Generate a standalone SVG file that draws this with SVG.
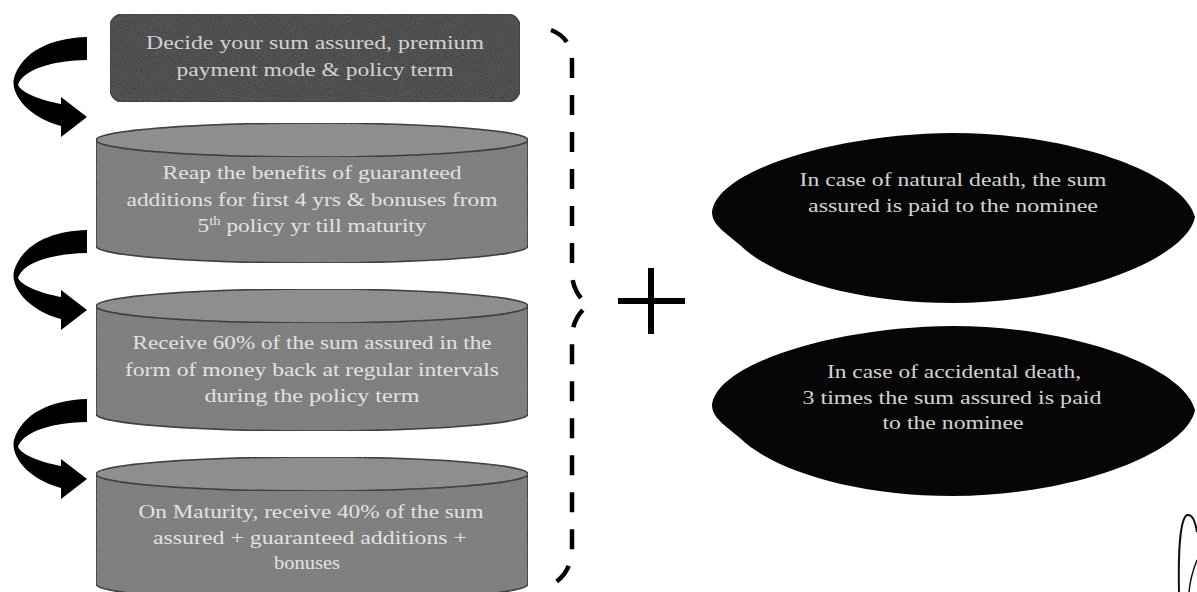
<svg xmlns="http://www.w3.org/2000/svg" width="1197" height="592" viewBox="0 0 1197 592">
<style>
  .t{font-family:"Liberation Serif","Times New Roman",serif;font-size:19px;text-anchor:middle;fill:#e2e2e2}
  .tb{fill:#d2d2d2}
  .te{font-family:"Liberation Serif","Times New Roman",serif;font-size:18.5px;text-anchor:middle;fill:#d4d4d4}
  .box{fill:#383838;stroke:#222;stroke-width:1.5}
  .body{fill:#787878;stroke:#1e1e1e;stroke-width:1.6}
  .lid{fill:#898989;stroke:#1e1e1e;stroke-width:1.6}
  .oval{fill:#060606}
  .arrow{fill:#000}
  .brace{fill:none;stroke:#000;stroke-width:4.5;stroke-dasharray:20 17;stroke-linecap:butt}
</style>
<defs>
  <filter id="grain" x="0" y="0" width="100%" height="100%">
    <feTurbulence type="fractalNoise" baseFrequency="0.85" numOctaves="2" seed="3" result="n"/>
    <feColorMatrix in="n" type="matrix" values="0 0 0 0 0.5  0 0 0 0 0.5  0 0 0 0 0.5  0 0 0 0.18 0" result="g"/>
    <feComposite in="g" in2="SourceGraphic" operator="in" result="gg"/>
    <feMerge><feMergeNode in="SourceGraphic"/><feMergeNode in="gg"/></feMerge>
  </filter>
  <path id="curl" d="M87,37 C50,38 22,52 14,78 C10,95 30,118 61,126 L61,137 L87,117 L61,97 L61,104 C40,100 22,93 18,85 C22,72 45,61 87,60 Z"/>
  <path id="lens" d="M712,212 C716,172 830,134 953,133 C1075,133 1185,175 1195,217 C1187,258 1080,302 953,303 C850,303 770,275 740,245 C725,232 712,225 712,212 Z"/>
</defs>

<g id="connectors">
  <use href="#curl" class="arrow"/>
  <use href="#curl" class="arrow" transform="translate(0,193)"/>
  <use href="#curl" class="arrow" transform="translate(0,362)"/>
</g>

<g id="step1">
  <rect class="box" x="110" y="14" width="410" height="88" rx="13" filter="url(#grain)"/>
  <text class="t tb" x="315" y="49" textLength="338" lengthAdjust="spacingAndGlyphs">Decide your sum assured, premium</text>
  <text class="t tb" x="315" y="76" textLength="277" lengthAdjust="spacingAndGlyphs">payment mode &amp; policy term</text>
</g>

<g id="step2">
  <path class="body" d="M96,140 L96,246 A216,17 0 0 0 528,246 L528,140 Z" filter="url(#grain)"/>
  <ellipse class="lid" cx="312" cy="140" rx="216" ry="17" filter="url(#grain)"/>
  <text class="t" x="312" y="179" textLength="299" lengthAdjust="spacingAndGlyphs">Reap the benefits of guaranteed</text>
  <text class="t" x="312" y="206" textLength="371" lengthAdjust="spacingAndGlyphs">additions for first 4 yrs &amp; bonuses from</text>
  <text class="t" x="312" y="232" textLength="229" lengthAdjust="spacingAndGlyphs">5<tspan font-size="12" dy="-7">th</tspan><tspan dy="7"> policy yr till maturity</tspan></text>
</g>

<g id="step3">
  <path class="body" d="M96,306 L96,414 A216,17 0 0 0 528,414 L528,306 Z" filter="url(#grain)"/>
  <ellipse class="lid" cx="312" cy="306" rx="216" ry="17" filter="url(#grain)"/>
  <text class="t" x="312" y="349" textLength="359" lengthAdjust="spacingAndGlyphs">Receive 60% of the sum assured in the</text>
  <text class="t" x="312" y="376" textLength="374" lengthAdjust="spacingAndGlyphs">form of money back at regular intervals</text>
  <text class="t" x="312" y="402" textLength="215" lengthAdjust="spacingAndGlyphs">during the policy term</text>
</g>

<g id="step4">
  <path class="body" d="M96,474 L96,584 A216,17 0 0 0 528,584 L528,474 Z" filter="url(#grain)"/>
  <ellipse class="lid" cx="312" cy="474" rx="216" ry="17" filter="url(#grain)"/>
  <text class="t" x="311" y="518" textLength="345" lengthAdjust="spacingAndGlyphs">On Maturity, receive 40% of the sum</text>
  <text class="t" x="310" y="544" textLength="314" lengthAdjust="spacingAndGlyphs">assured + guaranteed additions +</text>
  <text class="t" x="307" y="569" textLength="66" lengthAdjust="spacingAndGlyphs">bonuses</text>
</g>

<g id="brace">
  <path class="brace" d="M551,30 Q572,38 572,62 L572,272 Q572,292 588,305 Q572,318 572,338 L572,548 Q572,570 556,582"/>
</g>

<g id="plus">
  <rect x="618" y="298" width="67" height="6" fill="#000"/>
  <rect x="648" y="268" width="6" height="66" fill="#000"/>
</g>

<g id="natural-death">
  <use href="#lens" class="oval"/>
  <text class="te" x="953" y="186" textLength="307" lengthAdjust="spacingAndGlyphs">In case of natural death, the sum</text>
  <text class="te" x="953" y="212" textLength="290" lengthAdjust="spacingAndGlyphs">assured is paid to the nominee</text>
</g>

<g id="accidental-death">
  <use href="#lens" class="oval" transform="translate(0,193)"/>
  <text class="te" x="954" y="378" textLength="254" lengthAdjust="spacingAndGlyphs">In case of accidental death,</text>
  <text class="te" x="952" y="404" textLength="299" lengthAdjust="spacingAndGlyphs">3 times the sum assured is paid</text>
  <text class="te" x="953" y="429" textLength="141" lengthAdjust="spacingAndGlyphs">to the nominee</text>
</g>

<g id="pencil-mark">
  <path d="M1197,532 C1195,520 1192,514 1187,515 C1181,518 1178,545 1179,592" fill="none" stroke="#111" stroke-width="2"/>
  <path d="M1197,560 C1193,570 1190,580 1189,592" fill="none" stroke="#111" stroke-width="1.5"/>
</g>
</svg>
